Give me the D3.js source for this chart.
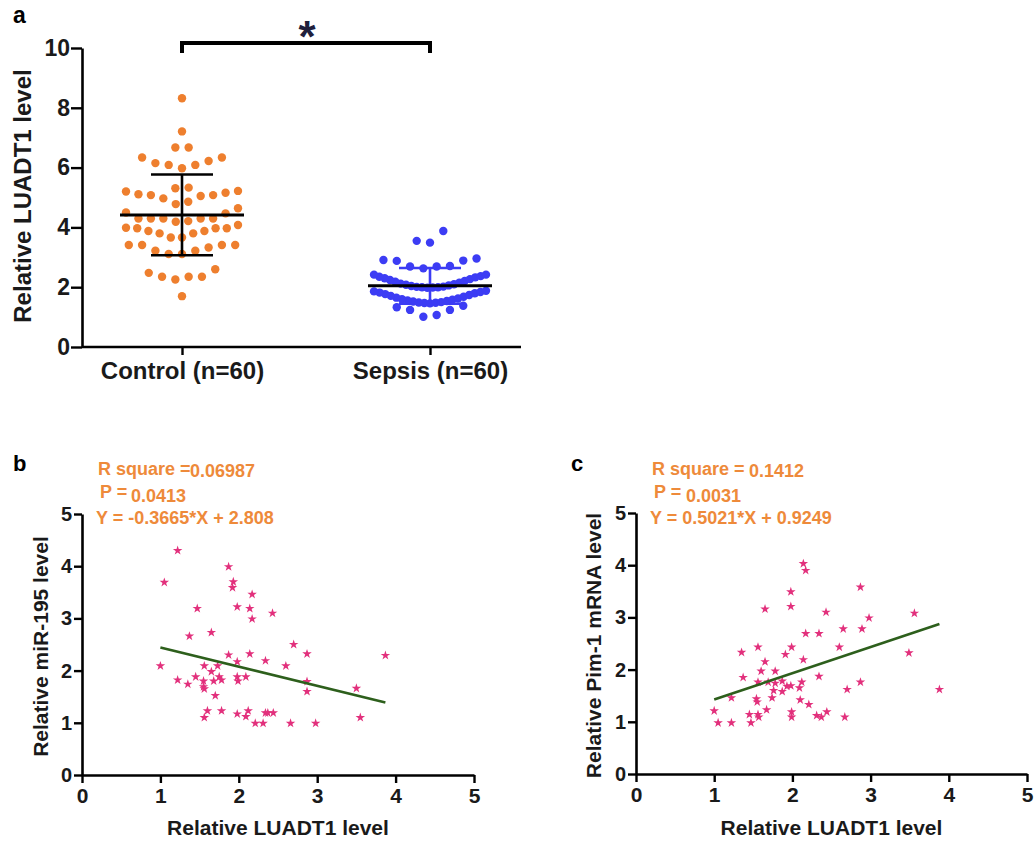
<!DOCTYPE html>
<html>
<head>
<meta charset="utf-8">
<script src="https://cdn.jsdelivr.net/npm/d3@7"></script>
<style>
  body { margin: 0; background: #fff; }
  text { font-family: "Liberation Sans", Arial, sans-serif; font-weight: bold; }
</style>
</head>
<body>
<svg id="fig" width="1035" height="844"></svg>
<script>
// ---- data ----
const groupNames = ['Control (n=60)', 'Sepsis (n=60)'];
const controlValues = [
  8.32, 7.21, 6.67, 6.67, 6.34, 6.34, 6.15, 6.09, 5.98, 6.09, 6.22,
  5.31, 5.33, 5.22, 5.16, 5.08, 5.05, 4.97, 5.08, 5.11, 5.20,
  4.86, 4.78, 4.50, 4.64, 4.47, 4.30, 4.30, 4.30, 4.19, 4.21, 4.30, 4.30,
  3.99, 3.97, 3.88, 3.80, 3.66, 3.66, 3.80, 3.88, 3.97, 3.97, 4.08,
  3.41, 3.41, 3.33, 3.22, 3.11, 3.11, 3.22, 3.41, 3.41,
  2.60, 2.35, 2.35, 2.26, 2.35, 2.48, 1.70
];
const sepsisValues = [
  3.88, 3.55, 3.49, 2.96, 2.91, 2.89, 2.88, 2.71, 2.69, 2.69, 2.63, 2.42, 2.42,
  2.37, 2.35, 2.33, 2.30, 2.27, 2.24, 2.21, 2.18, 2.15, 2.12,
  2.10, 2.08, 2.06, 2.04, 2.02, 2.01, 2.00, 2.00, 1.99, 1.98,
  1.88, 1.86, 1.84, 1.82, 1.80, 1.77, 1.74, 1.71, 1.68, 1.65,
  1.62, 1.60, 1.58, 1.56, 1.54, 1.52, 1.50, 1.49, 1.48, 1.47,
  1.46, 1.38, 1.33, 1.24, 1.24, 1.07, 1.01
];
const yTicksA = [0, 2, 4, 6, 8, 10];

// panel b: LUADT1 vs miR-195
const luadB = [1.22, 1.05, 1.87, 1.93, 1.92, 2.17, 1.98, 2.14, 2.17, 1.47, 2.43, 1.37, 1.65, 2.70,
  2.87, 3.87, 1.87, 2.14, 2.34, 1.98, 2.60, 1.00, 1.56, 1.73, 1.65, 1.22, 1.35, 1.45, 1.55, 1.55,
  1.56, 1.68, 1.75, 1.78, 1.98, 1.99, 2.09, 1.70, 2.87, 2.87, 3.50, 3.55, 1.56, 1.60, 1.78, 1.98,
  2.09, 2.12, 2.34, 2.37, 2.44, 2.21, 2.31, 2.66, 2.98];
const mirB = [4.30, 3.69, 3.99, 3.70, 3.59, 3.46, 3.22, 3.19, 2.99, 3.19, 3.10, 2.66, 2.73, 2.50,
  2.32, 2.29, 2.30, 2.32, 2.19, 2.17, 2.09, 2.09, 2.09, 2.09, 1.98, 1.82, 1.74, 1.88, 1.80, 1.69,
  1.65, 1.80, 1.88, 1.82, 1.88, 1.80, 1.88, 1.52, 1.79, 1.60, 1.66, 1.10, 1.10, 1.23, 1.23, 1.17,
  1.12, 1.23, 1.19, 1.19, 1.19, 0.99, 0.99, 0.99, 0.99];
const fitB = { slope: -0.3665, intercept: 2.808 };
const statsB = ['R square =', '0.06987', 'P =', '0.0413', 'Y = -0.3665*X + 2.808'];

// panel c: LUADT1 vs Pim-1 mRNA
const luadC = [2.14, 2.17, 2.87, 1.98, 1.98, 1.65, 2.43, 3.56, 2.98, 2.17, 2.34, 2.65, 2.89, 1.56,
  1.99, 2.60, 1.35, 3.49, 1.91, 1.65, 2.14, 1.60, 1.78, 1.37, 2.34, 1.56, 1.69, 1.78, 1.87, 2.12,
  2.87, 1.93, 1.98, 2.09, 1.76, 1.87, 2.70, 3.88, 1.22, 1.54, 1.55, 1.74, 2.10, 2.21, 1.00, 1.67,
  1.99, 1.99, 2.44, 1.45, 1.56, 1.57, 2.31, 2.37, 2.67, 1.05, 1.22, 1.47];
const pimC = [4.03, 3.90, 3.58, 3.49, 3.21, 3.16, 3.10, 3.08, 2.99, 2.69, 2.69, 2.78, 2.78, 2.43,
  2.43, 2.43, 2.33, 2.32, 2.29, 2.15, 2.19, 1.97, 1.97, 1.85, 1.87, 1.76, 1.76, 1.74, 1.78, 1.76,
  1.76, 1.68, 1.69, 1.65, 1.60, 1.58, 1.62, 1.62, 1.46, 1.44, 1.38, 1.46, 1.42, 1.33, 1.21, 1.23,
  1.19, 1.09, 1.19, 1.14, 1.14, 1.09, 1.12, 1.09, 1.09, 0.98, 0.98, 0.98];
const fitC = { slope: 0.5021, intercept: 0.9249 };
const statsC = ['R square =', '0.1412', 'P =', '0.0031', 'Y = 0.5021*X + 0.9249'];
const xyTicks = [0, 1, 2, 3, 4, 5];

const orange = '#ee7f2e';
const blue = '#3c3cf4';
const textOrange = '#ee8a3a';
const starPink = '#e2307c';
const lineGreen = '#2d5f1c';

const svg = d3.select('#fig');

function styleAxis(g, fontSize) {
  g.select('.domain').attr('stroke', '#000').attr('stroke-width', 2.6);
  g.selectAll('.tick line').attr('stroke', '#000').attr('stroke-width', 2.4);
  g.selectAll('.tick text').attr('fill', '#1a1a1a').attr('font-size', fontSize)
    .attr('font-family', '"Liberation Sans", Arial, sans-serif').attr('font-weight', 'bold');
}

// rows like a scatter dot plot: nearby values side by side, lowest in the middle
function swarm(values, band, maxStep, maxWidth) {
  const sorted = values.slice().sort(d3.ascending);
  const out = [];
  let i = 0;
  while (i < sorted.length) {
    const start = sorted[i];
    const row = [];
    while (i < sorted.length && sorted[i] < start + band) row.push(sorted[i++]);
    const n = row.length;
    const step = n > 1 ? Math.min(maxStep, maxWidth / (n - 1)) : 0;
    const slots = d3.range(n).map(k => (k - (n - 1) / 2) * step)
      .sort((a, b) => Math.abs(a) - Math.abs(b) || a - b);
    row.forEach((v, k) => out.push({ value: v, dx: slots[k] }));
  }
  return out;
}

// ================= panel a =================
const yA = d3.scaleLinear().domain([0, 10]).range([347, 48]);
const xA = d3.scalePoint().domain(groupNames).range([182, 430]);

const gAy = svg.append('g').attr('transform', 'translate(82,0)')
  .call(d3.axisLeft(yA).tickValues(yTicksA).tickSize(11).tickPadding(1).tickSizeOuter(0));
styleAxis(gAy, '23px');

const gAx = svg.append('g').attr('transform', 'translate(0,347)')
  .call(d3.axisBottom(xA).tickSize(8).tickPadding(7).tickSizeOuter(0));
styleAxis(gAx, '24px');
gAx.select('.domain').attr('d', 'M82,0H521');

const groups = [
  { name: groupNames[0], values: controlValues, color: orange, barColor: '#000' },
  { name: groupNames[1], values: sepsisValues, color: blue, barColor: blue }
];

groups.forEach(gr => {
  const cx = xA(gr.name);
  const pts = swarm(gr.values, 0.45, 13.3, 112);
  svg.append('g').selectAll('circle').data(pts).enter().append('circle')
    .attr('cx', d => cx + d.dx)
    .attr('cy', d => yA(d.value))
    .attr('r', 4.2)
    .attr('fill', gr.color);

  const m = d3.mean(gr.values);
  const sd = d3.deviation(gr.values);
  const eb = svg.append('g').attr('stroke', gr.barColor).attr('stroke-width', 2.6);
  eb.append('line').attr('x1', cx).attr('x2', cx).attr('y1', yA(m + sd)).attr('y2', yA(m - sd));
  [m + sd, m - sd].forEach(v => {
    eb.append('line').attr('x1', cx - 31).attr('x2', cx + 31).attr('y1', yA(v)).attr('y2', yA(v));
  });
  svg.append('line').attr('stroke', '#000').attr('stroke-width', 3)
    .attr('x1', cx - 62).attr('x2', cx + 62).attr('y1', yA(m)).attr('y2', yA(m));
});

// significance bracket
svg.append('path')
  .attr('d', `M${xA(groupNames[0])},53V43H${xA(groupNames[1])}V53`)
  .attr('fill', 'none').attr('stroke', '#000').attr('stroke-width', 4);
svg.append('text').attr('x', 307).attr('y', 52).attr('text-anchor', 'middle')
  .attr('font-size', '44px').attr('fill', '#20203c').text('*');

svg.append('text').attr('transform', 'translate(31,196) rotate(-90)')
  .attr('text-anchor', 'middle').attr('font-size', '24px').attr('fill', '#1a1a1a')
  .text('Relative LUADT1 level');
svg.append('text').attr('x', 13).attr('y', 23).attr('font-size', '23px').text('a');

// ================= panels b and c =================
function scatterPanel(opt) {
  const x = d3.scaleLinear().domain([0, 5]).range([opt.left, opt.right]);
  const y = d3.scaleLinear().domain([0, 5]).range([opt.bottom, opt.top]);

  const gy = svg.append('g').attr('transform', `translate(${opt.left},0)`)
    .call(d3.axisLeft(y).tickValues(xyTicks).tickFormat(d3.format('d'))
      .tickSize(8).tickPadding(2).tickSizeOuter(0));
  styleAxis(gy, '20px');
  const gx = svg.append('g').attr('transform', `translate(0,${opt.bottom})`)
    .call(d3.axisBottom(x).tickValues(xyTicks).tickFormat(d3.format('d'))
      .tickSize(8).tickPadding(5).tickSizeOuter(0));
  styleAxis(gx, '21px');

  const star = d3.symbol().type(d3.symbolStar).size(28);
  svg.append('g').selectAll('path').data(d3.zip(opt.xs, opt.ys)).enter().append('path')
    .attr('d', star)
    .attr('transform', d => `translate(${x(d[0])},${y(d[1])})`)
    .attr('fill', starPink);

  const ext = d3.extent(opt.xs);
  svg.append('line')
    .attr('x1', x(ext[0])).attr('y1', y(opt.fit.slope * ext[0] + opt.fit.intercept))
    .attr('x2', x(ext[1])).attr('y2', y(opt.fit.slope * ext[1] + opt.fit.intercept))
    .attr('stroke', lineGreen).attr('stroke-width', 2.6);

  const t = svg.append('g').attr('fill', textOrange).attr('font-size', '18px');
  t.append('text').attr('x', opt.left + 16).attr('y', 475).text(opt.stats[0]);
  t.append('text').attr('x', opt.left + opt.numDx).attr('y', 477).text(opt.stats[1]);
  t.append('text').attr('x', opt.left + 18).attr('y', 498).text(opt.stats[2]);
  t.append('text').attr('x', opt.left + opt.pDx).attr('y', 502).text(opt.stats[3]);
  t.append('text').attr('x', opt.left + 14).attr('y', 524).text(opt.stats[4]);

  svg.append('text').attr('transform', `translate(${opt.ylabX},${(opt.top + opt.bottom) / 2 + 2}) rotate(-90)`)
    .attr('text-anchor', 'middle').attr('font-size', '21px').attr('fill', '#1a1a1a').text(opt.ylab);
  svg.append('text').attr('x', (opt.left + opt.right) / 2).attr('y', 835)
    .attr('text-anchor', 'middle').attr('font-size', '21px').attr('fill', '#1a1a1a')
    .text('Relative LUADT1 level');
  svg.append('text').attr('x', opt.letterX).attr('y', 471).attr('font-size', '22px').text(opt.letter);
}

scatterPanel({
  left: 82, right: 474, top: 514, bottom: 775,
  xs: luadB, ys: mirB, fit: fitB, stats: statsB, numDx: 108, pDx: 49,
  ylab: 'Relative miR-195 level', ylabX: 48, letter: 'b', letterX: 13
});
scatterPanel({
  left: 636, right: 1027, top: 513, bottom: 774,
  xs: luadC, ys: pimC, fit: fitC, stats: statsC, numDx: 113, pDx: 50,
  ylab: 'Relative Pim-1 mRNA level', ylabX: 601, letter: 'c', letterX: 571
});
</script>
</body>
</html>
